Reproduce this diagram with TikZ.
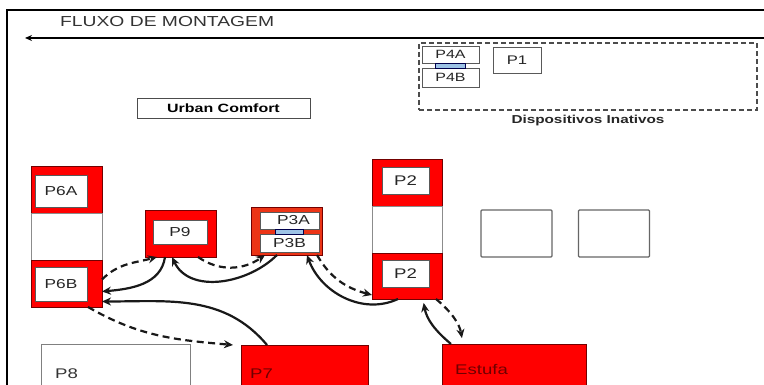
\documentclass[tikz,border=0pt]{standalone}
\usepackage{fontspec}
\setmainfont[FakeStretch=1.33]{Liberation Sans}
\usetikzlibrary{arrows.meta,positioning}
\definecolor{boxred}{RGB}{255,0,0}
\definecolor{framered}{RGB}{236,52,22}
\definecolor{linkblue}{RGB}{157,195,230}
\definecolor{darkred}{RGB}{110,0,0}
\newcommand{\fsz}[1]{\fontsize{#1}{#1}\selectfont}

\begin{document}
\begin{tikzpicture}[x=1pt, y=1pt,
    redbox/.style={draw=red!45!black, fill=boxred, minimum width=71pt, minimum height=47pt, inner sep=0pt, outer sep=0pt},
    gapbox/.style={draw=black!45, fill=white, minimum width=71pt, minimum height=47pt, outer sep=0pt},
    whitebox/.style={draw=black!65, fill=white, inner sep=0pt, outer sep=0pt, text=black!85, font=\fsz{13}},
    linkbox/.style={draw=blue!30!black, fill=linkblue, inner sep=0pt, minimum width=28pt, minimum height=5pt},
    sparebox/.style={draw=black!60, line width=1.3pt, rounded corners=1pt, minimum width=71pt, minimum height=47pt},
    floorbox/.style={draw=red!45!black, fill=boxred, inner sep=0pt, outer sep=0pt, minimum height=56pt},
    go/.style={line width=2.2pt, black!90, -{Stealth[length=9pt,width=8pt]}},
    goback/.style={go, dash pattern=on 7pt off 4.5pt},
  ]
  \fill[white] (0,0) rectangle (764,385);
  \clip (0,0) rectangle (764,385);
  % frame
  \draw[line width=2.8pt] (764,375) -- (7,375) -- (7,-5);
  \coordinate (flowstart) at (764,347);
  \coordinate (flowend) at (25,347);
  \draw[line width=1.6pt, -{Stealth[length=7pt,width=6pt]}] (flowstart) -- (flowend);
  \node[anchor=west, inner sep=0pt, font=\fsz{14.5}, text=black!80] (fluxo) at (60,363) {FLUXO DE MONTAGEM};
  \node[draw=black!70, line width=0.9pt, minimum width=173pt, minimum height=20pt, font=\fsz{12}\bfseries] (urban) at (223.5,277) {Urban Comfort};

  % inactive devices
  \node[draw=black!70, line width=1.5pt, dash pattern=on 5pt off 3pt, minimum width=338pt, minimum height=67pt] (inativos) at (588,308.5) {};
  \node[below=1pt of inativos, font=\fsz{11.5}\bfseries, text=black!85] (inativoslbl) {Dispositivos Inativos};
  \node[whitebox, font=\fsz{12}, minimum width=57pt, minimum height=17pt] (p4a) at (450.5,330.5) {P4A};
  \node[whitebox, font=\fsz{12}, minimum width=57pt, minimum height=19pt] (p4b) at (450.5,307.5) {P4B};
  \node[linkbox, minimum width=30pt] (p4link) at (450,319.5) {};
  \node[whitebox, font=\fsz{12.5}, minimum width=48pt, minimum height=26pt] (p1) at (517,325) {P1};

  % P6 column
  \node[redbox] (p6af) at (66.5,195.5) {};
  \node[gapbox] (p6gap) at (66.5,148.5) {};
  \node[redbox] (p6bf) at (66.5,101.5) {};
  \node[whitebox, minimum width=52pt, minimum height=32pt] (p6a) at (61,194) {P6A};
  \node[whitebox, minimum width=52pt, minimum height=34pt] (p6b) at (61,101) {P6B};

  % P9
  \node[redbox] (p9f) at (180.5,151.5) {};
  \node[whitebox, minimum width=54pt, minimum height=24pt] (p9) at (180,153) {P9};

  % P3
  \node[redbox, fill=framered, minimum height=48pt] (p3f) at (286.5,154) {};
  \node[whitebox, minimum width=59pt, minimum height=17pt] (p3a) at (289.5,164.5) {\hspace{8pt}P3A};
  \node[whitebox, minimum width=59pt, minimum height=18pt] (p3b) at (289.5,142) {P3B};
  \node[linkbox] (p3link) at (289,153.5) {};

  % P2 column
  \node[redbox, minimum width=70pt] (p2tf) at (407,202.5) {};
  \node[gapbox, minimum width=70pt] (p2gap) at (407,155.5) {};
  \node[redbox, minimum width=70pt, minimum height=46pt] (p2bf) at (407,109) {};
  \node[whitebox, font=\fsz{14}, minimum width=47pt, minimum height=27pt] (p2t) at (405.5,204.5) {P2};
  \node[whitebox, font=\fsz{14}, minimum width=47pt, minimum height=27pt] (p2b) at (405.5,111.5) {P2};

  \foreach \x [count=\i] in {516.5,614}
    \node[sparebox] (spare\i) at (\x,151.5) {};

  % bottom row
  \node[floorbox, draw=black!50, fill=white, minimum width=149pt] (p8) at (115.5,13) {};
  \node[floorbox, minimum width=127pt] (p7) at (304.5,12) {};
  \node[floorbox, minimum width=144pt] (estufa) at (514,13) {};
  \node[anchor=west, inner sep=0pt, font=\fsz{14}, text=black!80] at ([xshift=14pt,yshift=-2pt]p8.west) {P8};
  \node[anchor=west, inner sep=0pt, font=\fsz{14}, text=darkred] at ([xshift=9pt,yshift=-1pt]p7.west) {P7};
  \node[anchor=west, inner sep=0pt, font=\fsz{14}, text=darkred] at ([xshift=13pt,yshift=2pt]estufa.west) {Estufa};

  % material flow
  \draw[goback] ([yshift=4pt]p6bf.east) to[out=45, in=195] ([xshift=12pt]p9f.south west);
  \draw[go] ([xshift=20pt]p9f.south west) to[out=262, in=5] ([yshift=-8pt]p6bf.east);
  \draw[goback] ([xshift=-18pt]p9f.south east) to[out=-35, in=215] ([xshift=14pt]p3f.south west);
  \draw[go] ([xshift=26pt]p3f.south west) to[out=225, in=295] ([xshift=27pt]p9f.south west);
  \draw[goback] ([xshift=-5pt]p3f.south east) to[out=-60, in=165] ([yshift=4pt]p2bf.south west);
  \draw[go] ([xshift=26pt]p2bf.south west) to[out=205, in=290] ([xshift=-15pt]p3f.south east);
  \draw[goback, shorten >=6pt] ([xshift=-6pt]p2bf.south east) to[out=-40, in=100] ([xshift=21pt]estufa.north west);
  \draw[go, shorten >=4pt] ([xshift=9pt]estufa.north west) to[out=140, in=280] ([xshift=-19pt]p2bf.south east);
  \draw[goback] ([xshift=-14pt]p6bf.south east) to[out=-30, in=175] ([xshift=-8pt]p7.north west);
  \draw[go] ([xshift=26pt]p7.north west) to[out=130, in=0] ([yshift=-18pt]p6bf.east);
\end{tikzpicture}
\end{document}
